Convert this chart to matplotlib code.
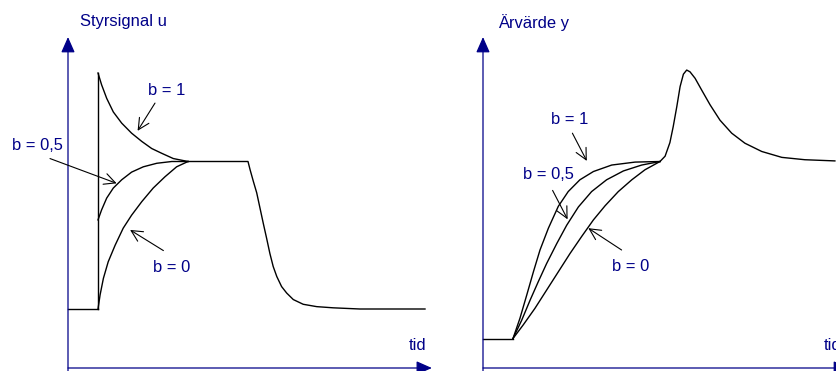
import numpy as np
import matplotlib as mpl
mpl.use('Agg')
import matplotlib.pyplot as plt

NAVY = '#000088'
FS = 11.9
plt.rcParams['font.family'] = ['Liberation Sans', 'DejaVu Sans']

# ---- left panel: control signal u ----
u_base_t = [0.0, 1.0]
u_base = [1.0, 1.0]
u_jump_t = [1.0, 1.0]
u_jump = [1.0, 5.0]

u_b1_t = [1.0, 1.12, 1.29, 1.51, 1.79, 2.12, 2.46, 2.79, 3.12, 3.51, 4.0]
u_b1 = [5.0, 4.80, 4.57, 4.34, 4.15, 3.98, 3.84, 3.72, 3.64, 3.55, 3.5]

u_b05_t = [1.0, 1.12, 1.29, 1.51, 1.79, 2.12, 2.51, 2.96, 3.46, 4.0]
u_b05 = [2.51, 2.68, 2.88, 3.05, 3.19, 3.32, 3.41, 3.47, 3.5, 3.5]

u_b0_t = [1.0, 1.07, 1.18, 1.34, 1.57, 1.84, 2.12, 2.46, 2.84, 3.23, 3.62, 4.0]
u_b0 = [1.0, 1.24, 1.52, 1.80, 2.08, 2.37, 2.59, 2.82, 3.05, 3.24, 3.41, 3.5]

u_tail_t = [4.0, 6.0, 6.07, 6.18, 6.29, 6.4, 6.51, 6.62, 6.73, 6.84, 6.96,
            7.12, 7.29, 7.51, 7.84, 8.29, 8.84, 9.73, 11.9]
u_tail = [3.5, 3.5, 3.36, 3.16, 2.97, 2.71, 2.45, 2.2, 1.94, 1.72, 1.55,
          1.38, 1.27, 1.16, 1.08, 1.04, 1.02, 1.0, 1.0]

# ---- right panel: process value y ----
y_base_t = [0.0, 1.0]
y_base = [0.5, 0.5]

y_b1_t = [1.0, 1.23, 1.46, 1.68, 1.9, 2.18, 2.51, 2.84, 3.23, 3.68, 4.29, 5.07, 5.9]
y_b1 = [0.5, 0.84, 1.24, 1.63, 2.0, 2.37, 2.74, 2.99, 3.19, 3.33, 3.44, 3.49, 3.5]

y_b05_t = [1.0, 1.29, 1.57, 1.84, 2.12, 2.46, 2.79, 3.18, 3.62, 4.12, 4.68, 5.29, 5.9]
y_b05 = [0.5, 0.81, 1.15, 1.46, 1.77, 2.11, 2.42, 2.73, 2.99, 3.19, 3.34, 3.44, 3.5]

y_b0_t = [1.0, 1.34, 1.73, 2.12, 2.51, 2.9, 3.29, 3.68, 4.07, 4.51, 4.96, 5.4, 5.9]
y_b0 = [0.5, 0.73, 1.01, 1.32, 1.63, 1.94, 2.23, 2.51, 2.75, 2.99, 3.19, 3.36, 3.5]

y_dist_t = [5.9, 6.07, 6.23, 6.34, 6.46, 6.57, 6.68, 6.79, 6.9, 7.07, 7.29,
            7.57, 7.9, 8.29, 8.73, 9.29, 9.96, 10.73, 11.73]
y_dist = [3.5, 3.59, 3.82, 4.09, 4.43, 4.77, 4.98, 5.05, 5.02, 4.91, 4.71,
          4.46, 4.2, 3.98, 3.81, 3.67, 3.57, 3.53, 3.51]

b_labels = ['b = 1', 'b = 0,5', 'b = 0']

fig = plt.figure(figsize=(8.36, 3.71), dpi=100)
axL = fig.add_axes([0, 0, 440 / 836, 1])
axR = fig.add_axes([440 / 836, 0, 396 / 836, 1])
axL.set_xlim(-68 / 30, (440 - 68) / 30)
axR.set_xlim(-43 / 30, (836 - 483) / 30)
for ax in (axL, axR):
    ax.set_ylim(-3 / 59, 368 / 59)
    ax.axis('off')


def axis_arrows(ax, xtip):
    head = '-|>,head_length=0.95,head_width=0.42'
    ax.annotate('', xy=(0, 5.61), xytext=(0, -0.06),
                arrowprops=dict(arrowstyle=head, color=NAVY, lw=0.9,
                                shrinkA=0, shrinkB=0, mutation_scale=10))
    ax.annotate('', xy=(xtip, 0), xytext=(0, 0), annotation_clip=False,
                arrowprops=dict(arrowstyle=head, color=NAVY, lw=0.9,
                                shrinkA=0, shrinkB=0, mutation_scale=10))


def pointer(ax, label, txt_xy, tail, tip):
    ax.text(txt_xy[0], txt_xy[1], label, color=NAVY, fontsize=FS,
            ha='left', va='baseline')
    ax.annotate('', xy=tip, xytext=tail,
                arrowprops=dict(arrowstyle='->,head_length=0.8,head_width=0.4',
                                color='black', lw=0.8, shrinkA=0, shrinkB=0,
                                mutation_scale=10))


lw = 1.0
# left
axis_arrows(axL, 12.13)
axL.plot(u_base_t, u_base, color='black', lw=lw)
axL.plot(u_jump_t, u_jump, color='black', lw=lw)
axL.plot(u_b1_t, u_b1, color='black', lw=lw)
axL.plot(u_b05_t, u_b05, color='black', lw=lw)
axL.plot(u_b0_t, u_b0, color='black', lw=lw)
axL.plot(u_tail_t, u_tail, color='black', lw=lw)
axL.text(0.41, 5.80, 'Styrsignal u', color=NAVY, fontsize=FS, va='baseline')
axL.text(11.37, 0.305, 'tid', color=NAVY, fontsize=FS, va='baseline')
pointer(axL, b_labels[0], (2.66, 4.63), (2.9, 4.49), (2.32, 4.02))
pointer(axL, b_labels[1], (-1.86, 3.69), (-0.6, 3.55), (1.62, 3.13))
pointer(axL, b_labels[2], (2.84, 1.62), (3.18, 1.99), (2.07, 2.34))

# right
axis_arrows(axR, 12.2)
axR.plot(y_base_t, y_base, color='black', lw=lw)
axR.plot(y_b1_t, y_b1, color='black', lw=lw)
axR.plot(y_b05_t, y_b05, color='black', lw=lw)
axR.plot(y_b0_t, y_b0, color='black', lw=lw)
axR.plot(y_dist_t, y_dist, color='black', lw=lw)
axR.text(0.51, 5.77, 'Ärvärde y', color=NAVY, fontsize=FS, va='baseline')
axR.text(11.37, 0.305, 'tid', color=NAVY, fontsize=FS, va='baseline',
         clip_on=False)
pointer(axR, b_labels[0], (2.26, 4.14), (2.98, 3.98), (3.46, 3.51))
pointer(axR, b_labels[1], (1.32, 3.20), (2.32, 3.01), (2.82, 2.52))
pointer(axR, b_labels[2], (4.29, 1.65), (4.62, 2.0), (3.51, 2.37))

fig.savefig('out.png', dpi=100)
